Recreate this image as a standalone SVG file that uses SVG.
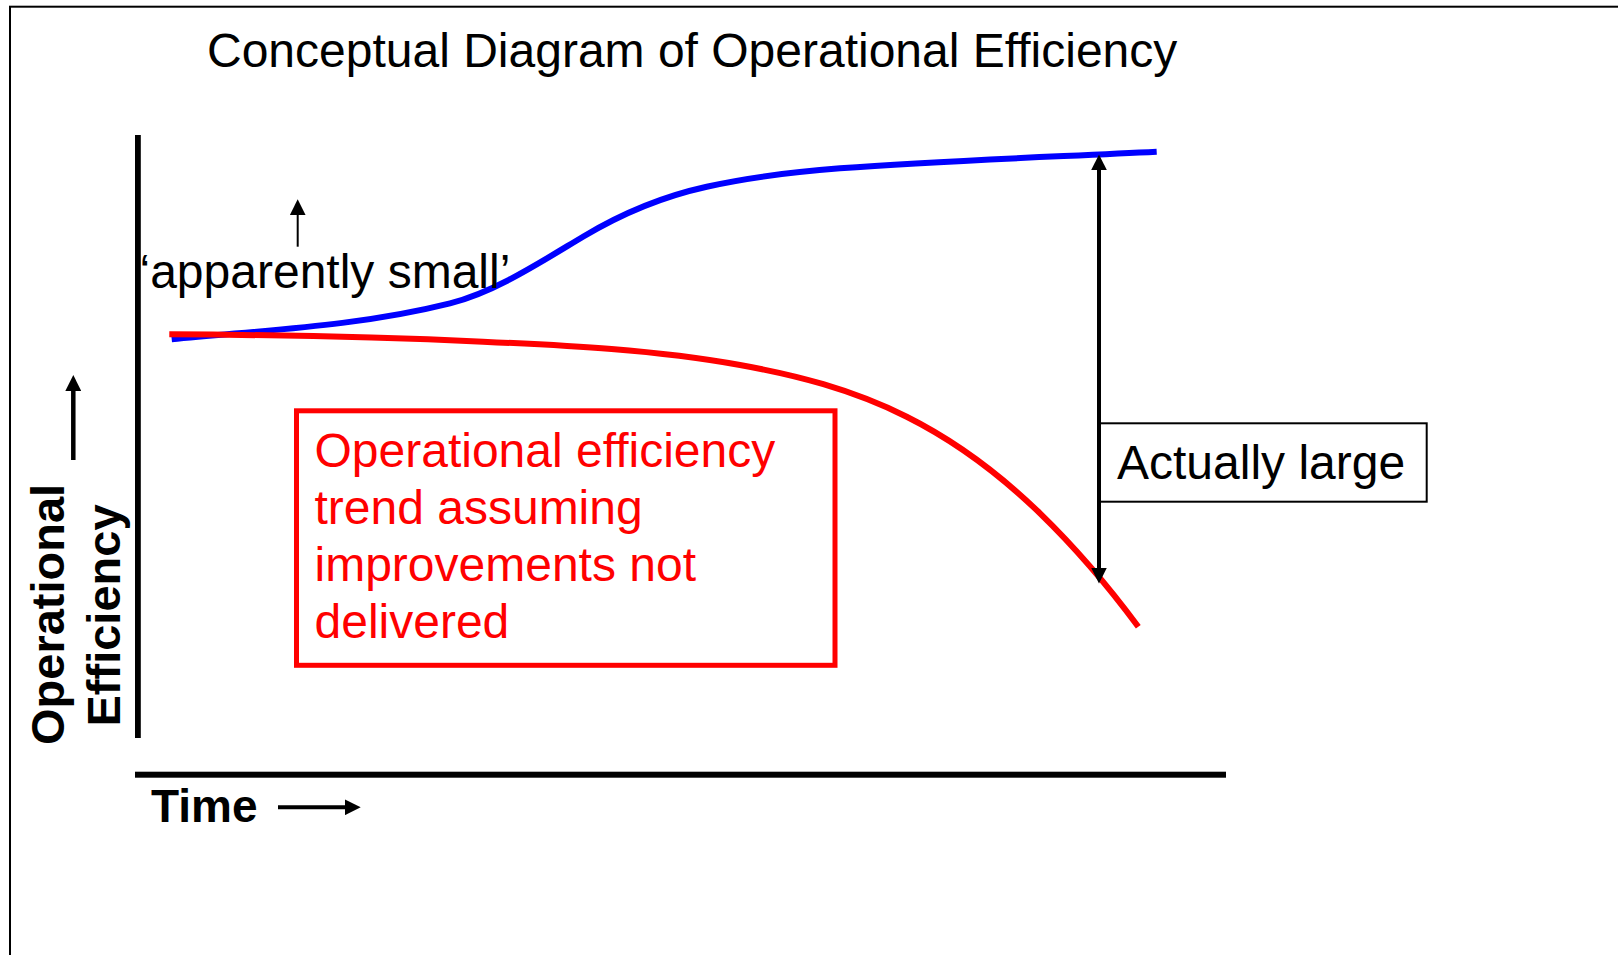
<svg xmlns="http://www.w3.org/2000/svg" width="1618" height="955" viewBox="0 0 1618 955">
<style>
text{font-family:"Liberation Sans",Arial,sans-serif;font-size:48px;fill:#000}
.bold{font-weight:bold;font-size:47px}
.red{fill:#ff0000}
.curve{fill:none;stroke-width:6;stroke-linecap:butt;stroke-linejoin:round}
.arr{stroke:#000;fill:none}
</style>
<defs>
<marker id="head" markerUnits="userSpaceOnUse" markerWidth="16" markerHeight="16" refX="6" refY="8" orient="auto-start-reverse" viewBox="0 0 16 16">
<path d="M0,0 L16,8 L0,16 z" fill="#000"/>
</marker>
</defs>
<rect width="1618" height="955" fill="#fff"/>
<g id="frame">
<rect x="10" y="6.7" width="1700" height="1000" fill="none" stroke="#000" stroke-width="2"/>
</g>
<g id="title">
<text x="207" y="66.7">Conceptual Diagram of Operational Efficiency</text>
</g>
<g id="axes">
<rect x="135" y="135" width="5.8" height="603" fill="#000"/>
<rect x="135" y="771.7" width="1091" height="6" fill="#000"/>
</g>
<g id="axis-labels">
<text class="bold" transform="translate(63.5,745) rotate(-90)">Operational</text>
<text class="bold" transform="translate(120,726.5) rotate(-90)">Efficiency</text>
<text class="bold" x="151" y="822" style="font-size:46px">Time</text>
</g>
<g id="curves">
<path id="improved" class="curve" stroke="#0000ff" d="M171.7,339.3 C264.47,330.02 357.23,326.49 450,303.3 C494.33,292.22 538.67,263.3 583,236.7 C624.23,211.96 665.47,195.77 706.7,186.7 C751.13,176.93 795.57,171.63 840,168.3 C945.57,160.38 1051.13,156.98 1156.7,151.7"/>
<path id="notdelivered" class="curve" stroke="#ff0000" d="M169.3,334.3 C273.87,334.82 378.43,337 483,341.7 C568.67,345.56 654.33,349.58 740,365 C795.57,375 851.13,388.92 906.7,416.7 C951.13,438.92 995.57,470.2 1040,513.3 C1072.77,545.08 1105.53,582.46 1138.3,626.7"/>
</g>
<g id="apparently-small">
<text x="139.5" y="288">‘apparently small’</text>
</g>
<g id="red-box">
<rect x="296.5" y="410.8" width="538.5" height="254.5" fill="none" stroke="#ff0000" stroke-width="5"/>
<text class="red" x="314.5" y="467.3">Operational efficiency</text>
<text class="red" x="314.5" y="524">trend assuming</text>
<text class="red" x="314.5" y="581">improvements not</text>
<text class="red" x="314.5" y="638.3">delivered</text>
</g>
<g id="actually-large">
<rect x="1099" y="423.3" width="327.7" height="78.4" fill="#fff" stroke="#000" stroke-width="2"/>
<text x="1117" y="478.8">Actually large</text>
</g>
<g id="connectors">
<line class="arr" x1="1099" y1="164.4" x2="1099" y2="573.5" stroke-width="4" marker-start="url(#head)" marker-end="url(#head)"/>
<line class="arr" x1="297.7" y1="246.7" x2="297.7" y2="209.3" stroke-width="2" marker-end="url(#head)"/>
<line class="arr" x1="73.3" y1="460" x2="73.3" y2="385" stroke-width="4.5" marker-end="url(#head)"/>
<line class="arr" x1="278" y1="807.3" x2="350.7" y2="807.3" stroke-width="4" marker-end="url(#head)"/>
</g>
</svg>
